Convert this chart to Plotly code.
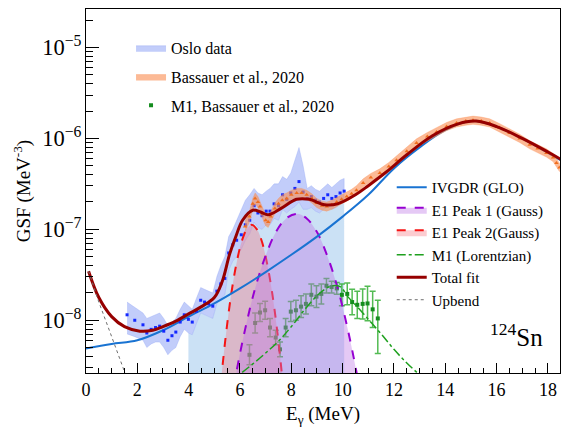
import plotly.graph_objects as go

# ---------------- data (GSF values as log10) ----------------
# IVGDR (GLO)
glo_E = [0, 1, 2, 3, 4, 5, 6, 7, 8, 9, 10, 11, 12, 13, 14, 15, 16, 17, 18, 18.5]
glo_log = [-8.31, -8.26, -8.22, -8.11, -7.96, -7.815, -7.65, -7.47, -7.28, -7.08,
           -6.86, -6.62, -6.33, -6.10, -5.91, -5.81, -5.87, -6.00, -6.16, -6.24]

# Total fit
tot_E = [0.1, 0.5, 1.0, 1.5, 2.1, 2.6, 3.0, 3.5, 4.0, 4.5, 5.0, 5.3, 5.6, 5.85, 6.1, 6.5,
         6.8, 7.1, 7.6, 8.2, 8.7, 9.3, 9.8, 10.5, 11.0, 11.7, 12.5, 13.5, 14.5, 15.2, 16, 17, 18, 18.5]
tot_log = [-7.46, -7.75, -7.96, -8.07, -8.12, -8.11, -8.07, -8.01, -7.93, -7.85, -7.75, -7.58,
           -7.27, -7.07, -6.90, -6.79, -6.81, -6.84, -6.77, -6.67, -6.67, -6.73, -6.72, -6.62,
           -6.52, -6.37, -6.18, -5.97, -5.84, -5.81, -5.87, -6.00, -6.15, -6.23]

# Upbend
up_E = [0.1, 0.5, 1.0, 1.5, 2.0]
up_log = [-7.46, -7.80, -8.18, -8.56, -8.95]

# M1 (Lorentzian)
m1_E = [5.5, 6.0, 6.5, 7.0, 7.5, 8.0, 8.5, 9.0, 9.3, 9.6, 9.9, 10.2, 10.5, 11.0, 11.5, 12.0, 12.5, 13.0, 13.5]
m1_log = [-8.68, -8.59, -8.48, -8.36, -8.23, -8.07, -7.89, -7.73, -7.66, -7.62, -7.63, -7.74,
          -7.83, -7.99, -8.15, -8.32, -8.47, -8.60, -8.72]

# E1 Peak 1 (Gauss)
p1_E = [5.4, 5.8, 6.2, 6.6, 7.0, 7.4, 7.8, 8.2, 8.6, 9.0, 9.4, 9.8, 10.2, 10.6, 11.0]
p1_log = [-9.32, -8.66, -8.10, -7.64, -7.29, -7.03, -6.88, -6.83, -6.88, -7.03, -7.29, -7.64, -8.10, -8.66, -9.32]

# E1 Peak 2 (Gauss)
p2_E = [5.06, 5.26, 5.46, 5.66, 5.86, 6.06, 6.26, 6.46, 6.66, 6.86, 7.06, 7.26, 7.46, 7.66, 7.86]
p2_log = [-9.28, -8.67, -8.14, -7.71, -7.38, -7.14, -7.00, -6.95, -7.00, -7.14, -7.38, -7.71, -8.14, -8.67, -9.28]

# Oslo data (value, lower, upper)
oslo_E = [1.6, 1.9, 2.22, 2.37, 2.54, 2.71, 2.87, 3.03, 3.19, 3.35, 3.5, 3.67, 3.83, 3.99, 4.14,
          4.3, 4.47, 4.62, 4.78, 4.94, 5.1, 5.25, 5.41, 5.56, 5.72, 5.87, 6.05, 6.21, 6.38, 6.55,
          6.7, 6.86, 7.02, 7.17, 7.33, 7.5, 7.66, 7.82, 7.98, 8.14, 8.3, 8.46, 8.62, 8.78, 8.94,
          9.1, 9.26, 9.42, 9.58, 9.74, 9.9, 10.06]
oslo_log = [-7.94, -8.00, -8.05, -8.14, -8.10, -8.08, -8.065, -8.12, -8.22, -8.17, -8.13, -8.02,
            -7.94, -7.99, -8.02, -7.90, -7.78, -7.80, -7.82, -7.845, -7.68, -7.60, -7.54, -7.26,
            -7.17, -7.12, -7.06, -6.95, -6.90, -6.74, -6.82, -6.85, -6.80, -6.80, -6.72, -6.74,
            -6.62, -6.67, -6.60, -6.55, -6.475, -6.59, -6.66, -6.64, -6.68, -6.70, -6.66, -6.62,
            -6.66, -6.64, -6.60, -6.58]
oslo_lo = [-8.15, -8.18, -8.22, -8.30, -8.26, -8.24, -8.24, -8.30, -8.38, -8.33, -8.30, -8.18,
           -8.10, -8.14, -8.16, -8.04, -7.92, -7.94, -7.96, -7.98, -7.82, -7.76, -7.72, -7.45,
           -7.35, -7.30, -7.22, -7.12, -7.05, -6.92, -6.98, -7.00, -6.95, -6.95, -6.88, -6.90,
           -6.78, -6.82, -6.78, -6.75, -6.70, -6.78, -6.78, -6.76, -6.80, -6.82, -6.78, -6.75,
           -6.78, -6.76, -6.72, -6.70]
oslo_hi = [-7.80, -7.86, -7.92, -7.98, -7.96, -7.94, -7.92, -7.98, -8.06, -8.02, -7.98, -7.88,
           -7.80, -7.84, -7.88, -7.76, -7.64, -7.66, -7.68, -7.70, -7.52, -7.40, -7.30, -7.08,
           -7.00, -6.90, -6.80, -6.68, -6.62, -6.55, -6.60, -6.62, -6.58, -6.55, -6.50, -6.50,
           -6.42, -6.45, -6.38, -6.25, -6.10, -6.30, -6.55, -6.52, -6.56, -6.58, -6.54, -6.50,
           -6.54, -6.50, -6.46, -6.44]

# Bassauer et al., 2020
bas_E = [6.2, 6.37, 6.5, 6.59, 6.7, 6.78, 6.9, 7.0, 7.1, 7.2, 7.36, 7.5, 7.65, 7.82, 8.0, 8.21,
         8.4, 8.6, 8.8, 8.99, 9.2, 9.38, 9.58, 9.77, 9.96, 10.16, 10.35, 10.54, 10.8, 11.1, 11.45,
         11.8, 12.1, 12.5, 12.88, 13.3, 13.66, 14.05, 14.44, 14.8, 15.08, 15.4, 15.73, 16.1,
         16.5, 16.9, 17.29, 17.6, 17.94, 18.2, 18.33, 18.45]
bas_log = [-6.97, -6.86, -6.72, -6.66, -6.70, -6.75, -6.83, -6.90, -6.92, -6.86, -6.77, -6.72,
           -6.68, -6.66, -6.62, -6.60, -6.60, -6.62, -6.66, -6.71, -6.74, -6.75, -6.73, -6.70,
           -6.67, -6.64, -6.61, -6.57, -6.49, -6.43, -6.38, -6.31, -6.24, -6.14, -6.05, -5.98,
           -5.93, -5.87, -5.83, -5.81, -5.80, -5.81, -5.83, -5.88, -5.94, -6.00, -6.07, -6.11,
           -6.16, -6.21, -6.27, -6.32]
bas_err = [0.06] * 14 + [0.05] * 14 + [0.045] * 24

# M1, Bassauer et al., 2020 (value, error up, error down in dex)
m1d_E = [6.37, 6.59, 6.78, 6.98, 7.17, 7.39, 7.56, 7.78, 7.98, 8.18, 8.38, 8.57, 8.78, 8.98,
         9.17, 9.37, 9.57, 9.77, 9.97, 10.18, 10.37, 10.57, 10.78, 10.97, 11.17, 11.37]
m1d_log = [-8.38, -8.03, -7.915, -7.89, -8.08, -8.19, -8.32, -8.08, -7.905, -7.89, -7.85, -7.82,
           -7.72, -7.74, -7.71, -7.62, -7.635, -7.65, -7.72, -7.71, -7.80, -7.83, -7.82, -7.815,
           -7.88, -7.98]
m1d_up = [0.11, 0.11, 0.10, 0.10, 0.10, 0.08, 0.08, 0.10, 0.11, 0.11, 0.12, 0.11, 0.12, 0.12,
          0.11, 0.08, 0.065, 0.065, 0.12, 0.12, 0.14, 0.15, 0.165, 0.19, 0.20, 0.20]
m1d_dn = [0.11, 0.11, 0.10, 0.10, 0.10, 0.08, 0.08, 0.10, 0.11, 0.11, 0.12, 0.11, 0.12, 0.12,
          0.11, 0.08, 0.065, 0.065, 0.12, 0.12, 0.14, 0.15, 0.165, 0.19, 0.20, 0.385]

FIT_START = 3.99   # start of the light-blue fit region (MeV)
BASE = 1e-12       # baseline far below the visible range


def lin(vals):
    return [10 ** v for v in vals]


FONT = "Times New Roman, Liberation Serif, DejaVu Serif, serif"

fig = go.Figure()

# light-blue fit region under the Oslo data
reg_E = [e for e in oslo_E if e >= FIT_START]
reg_lo = [l for e, l in zip(oslo_E, oslo_lo) if e >= FIT_START]
fig.add_trace(go.Scatter(
    x=reg_E + reg_E[::-1], y=lin(reg_lo) + [BASE] * len(reg_E),
    fill="toself", fillcolor="rgba(160,200,236,0.55)", line=dict(width=0),
    mode="lines", showlegend=False, hoverinfo="skip"))

# Oslo band
fig.add_trace(go.Scatter(
    x=oslo_E + oslo_E[::-1], y=lin(oslo_hi) + lin(oslo_lo)[::-1],
    fill="toself", fillcolor="rgba(120,145,245,0.45)", line=dict(width=0.5, color="rgba(120,145,245,0.5)"),
    mode="lines", name="Oslo data", legend="legend", legendgroup="g1", legendrank=1, hoverinfo="skip"))

# M1 Bassauer data
m1v = lin(m1d_log)
fig.add_trace(go.Scatter(
    x=m1d_E, y=m1v, mode="markers",
    marker=dict(symbol="square", size=4, color="rgb(20,140,30)"),
    error_y=dict(type="data", symmetric=False,
                 array=[v * (10 ** u - 1) for v, u in zip(m1v, m1d_up)],
                 arrayminus=[v * (1 - 10 ** -d) for v, d in zip(m1v, m1d_dn)],
                 color="rgba(40,170,40,0.8)", thickness=1.5, width=3),
    name="M1, Bassauer et al., 2020", legend="legend", legendgroup="g3", legendrank=3))

# E1 peaks
fig.add_trace(go.Scatter(
    x=p2_E, y=lin(p2_log), fill="tozeroy", fillcolor="rgba(245,110,120,0.35)",
    line=dict(color="rgb(245,20,20)", dash="dash", width=2, shape="spline"),
    mode="lines", name="E1 Peak 2(Gauss)", legend="legend2", legendrank=13))
fig.add_trace(go.Scatter(
    x=p1_E, y=lin(p1_log), fill="tozeroy", fillcolor="rgba(190,120,230,0.40)",
    line=dict(color="rgb(150,0,210)", dash="dash", width=2, shape="spline"),
    mode="lines", name="E1 Peak 1 (Gauss)", legend="legend2", legendrank=12))

# GLO
fig.add_trace(go.Scatter(
    x=glo_E, y=lin(glo_log), mode="lines",
    line=dict(color="rgb(25,115,210)", width=2, shape="spline"),
    name="IVGDR (GLO)", legend="legend2", legendrank=11))

# M1 Lorentzian
fig.add_trace(go.Scatter(
    x=m1_E, y=lin(m1_log), mode="lines",
    line=dict(color="rgb(30,160,30)", dash="dashdot", width=1.5, shape="spline"),
    name="M1 (Lorentzian)", legend="legend2", legendrank=14))

# Oslo points
fig.add_trace(go.Scatter(
    x=oslo_E, y=lin(oslo_log), mode="markers",
    marker=dict(symbol="square", size=3, color="rgb(20,40,255)"),
    showlegend=False, hoverinfo="skip"))

# Bassauer band + points
fig.add_trace(go.Scatter(
    x=bas_E + bas_E[::-1],
    y=lin([v + e for v, e in zip(bas_log, bas_err)]) + lin([v - e for v, e in zip(bas_log, bas_err)])[::-1],
    fill="toself", fillcolor="rgba(250,140,80,0.6)", line=dict(width=0.5, color="rgba(250,140,80,0.6)"),
    mode="lines", name="Bassauer et al., 2020", legend="legend", legendgroup="g2", legendrank=2,
    hoverinfo="skip"))
fig.add_trace(go.Scatter(
    x=bas_E, y=lin(bas_log), mode="markers",
    marker=dict(symbol="triangle-up", size=4, color="rgb(240,110,30)"),
    showlegend=False, hoverinfo="skip"))

# Total fit
fig.add_trace(go.Scatter(
    x=tot_E, y=lin(tot_log), mode="lines",
    line=dict(color="rgb(150,0,0)", width=3, shape="spline"),
    name="Total fit", legend="legend2", legendrank=15))

# Upbend
fig.add_trace(go.Scatter(
    x=up_E, y=lin(up_log), mode="lines",
    line=dict(color="rgb(110,110,110)", dash="3px,3px", width=1),
    name="Upbend", legend="legend2", legendrank=16))

axis_common = dict(showline=True, linecolor="black", linewidth=1, mirror=True,
                   ticks="inside", tickcolor="black", showgrid=False, zeroline=False,
                   tickfont=dict(family=FONT, size=18, color="black"))

fig.update_layout(
    width=563, height=430,
    margin=dict(l=86, r=3, t=9, b=57),
    paper_bgcolor="white", plot_bgcolor="white",
    font=dict(family=FONT, color="black"),
    xaxis=dict(range=[0, 18.47], dtick=2, tick0=0, ticklen=10,
               minor=dict(dtick=0.5, ticks="inside", ticklen=5, tickcolor="black"),
               title=dict(text="E<sub>γ</sub> (MeV)", font=dict(family=FONT, size=19), standoff=8),
               **axis_common),
    yaxis=dict(type="log", range=[-8.58, -4.577], dtick=1, ticklen=13,
               exponentformat="power",
               minor=dict(dtick="D1", ticks="inside", ticklen=7, tickcolor="black"),
               title=dict(text="GSF (MeV<sup>-3</sup>)", font=dict(family=FONT, size=19), standoff=6),
               **axis_common),
    legend=dict(x=0.095, y=0.94, xanchor="left", yanchor="top", bgcolor="rgba(0,0,0,0)",
                font=dict(family=FONT, size=16), tracegroupgap=5, traceorder="grouped"),
    legend2=dict(x=0.645, y=0.555, xanchor="left", yanchor="top", bgcolor="rgba(0,0,0,0)",
                 font=dict(family=FONT, size=15), traceorder="normal"),
    annotations=[dict(text="<sup>124</sup>Sn", xref="paper", yref="paper", x=0.968, y=0.055,
                      xanchor="right", showarrow=False,
                      font=dict(family=FONT, size=25, color="black"))],
    showlegend=True,
)

fig.write_html("out.html")
